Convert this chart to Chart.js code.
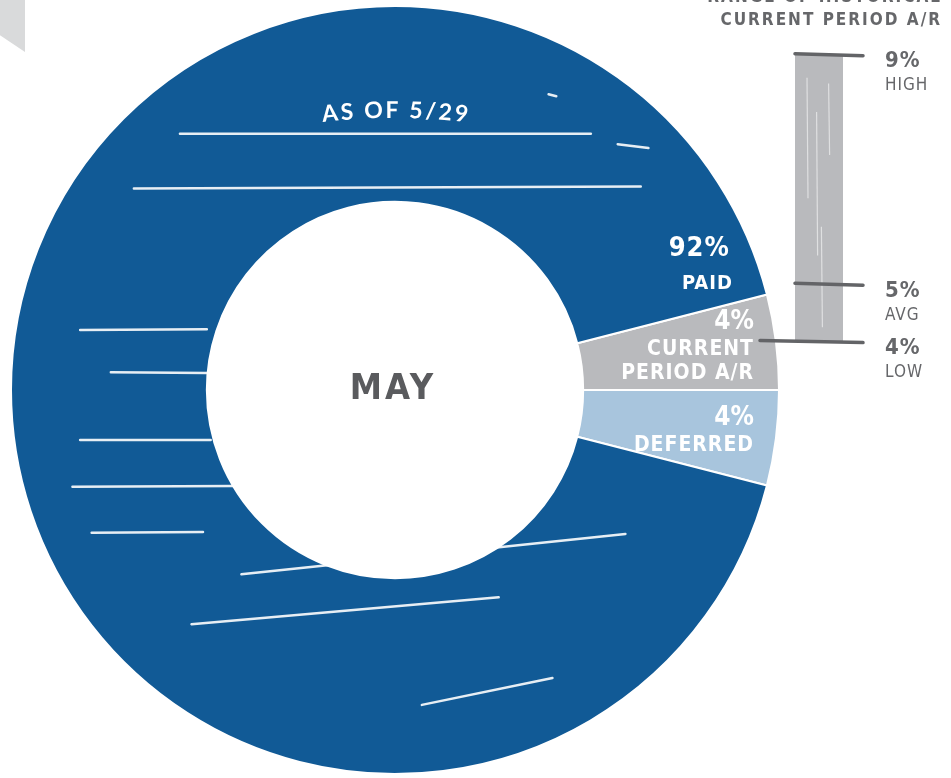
<!DOCTYPE html>
<html>
<head>
  <meta charset="UTF-8">
  <title>May A/R</title>
  <script src="https://cdn.jsdelivr.net/npm/chart.js"></script>
  <style>
    body { margin: 0; background: #fff; width: 951px; height: 778px; overflow: hidden; position: relative; }
    #corner { position: absolute; left: 0; top: 0; width: 25px; height: 52px; background: #d9dadb;
              clip-path: polygon(0 0, 100% 0, 100% 100%, 0 68%); }
    #donutBox { position: absolute; left: 10px; top: 5px; width: 770px; height: 770px; }
    #rangeBox { position: absolute; left: 650px; top: 0; width: 301px; height: 400px; }
  </style>
  <script>
    // donut slices, clockwise from the top of the A/R wedge
    const sliceNames = ['Current Period A/R', 'Deferred', 'Paid'];
    const sliceValues = [4, 4, 92];
    const sliceColors = ['#b9babd', '#a8c5dd', '#115a96'];
    const sliceLabels = [['4%', 'CURRENT', 'PERIOD A/R'], ['4%', 'DEFERRED'], ['92%', 'PAID']];

    // historical range of current period A/R
    const rangeLow = 4;
    const rangeAvg = 5;
    const rangeHigh = 9;
    const rangeMarks = [
      { value: rangeHigh, text: ['9%', 'HIGH'] },
      { value: rangeAvg, text: ['5%', 'AVG'] },
      { value: rangeLow, text: ['4%', 'LOW'] }
    ];

    const handFont = "'DejaVu Sans Condensed', 'DejaVu Sans', sans-serif";
    const inkGray = '#66676a';

    // white brush streaks across the ring, in units of the outer radius
    const streaks = [
      [-0.56, -0.667, 0.51, -0.667], [-0.68, -0.525, 0.64, -0.530],
      [-0.82, -0.156, -0.49, -0.158], [-0.74, -0.046, -0.49, -0.044],
      [-0.82, 0.130, -0.48, 0.130], [-0.84, 0.252, -0.42, 0.250],
      [-0.79, 0.372, -0.50, 0.370], [-0.40, 0.480, 0.60, 0.375],
      [-0.53, 0.610, 0.27, 0.540], [0.07, 0.820, 0.41, 0.750],
      [0.58, -0.640, 0.66, -0.630], [0.40, -0.770, 0.42, -0.765]
    ];

    const donutDecor = {
      id: 'donutDecor',
      afterDatasetsDraw(chart) {
        const ctx = chart.ctx;
        const arcs = chart.getDatasetMeta(0).data;
        const cx = arcs[0].x, cy = arcs[0].y;
        const R = arcs[0].outerRadius, r = arcs[0].innerRadius;

        // brush streaks, only where the ring is painted
        ctx.save();
        ctx.globalCompositeOperation = 'source-atop';
        ctx.strokeStyle = 'rgba(255,255,255,0.9)';
        ctx.lineCap = 'round';
        streaks.forEach(s => {
          ctx.lineWidth = 2.5;
          ctx.beginPath();
          ctx.moveTo(cx + s[0] * R, cy + s[1] * R);
          ctx.lineTo(cx + s[2] * R, cy + s[3] * R);
          ctx.stroke();
        });
        ctx.restore();

        ctx.save();
        ctx.fillStyle = '#fff';
        ctx.textAlign = 'right';
        ctx.textBaseline = 'middle';

        // A/R and deferred labels sit in their wedges, right aligned
        const wedgeTop = [cy - 68, cy + 28];
        [0, 1].forEach(i => {
          const x = cx + R - 25;
          sliceLabels[i].forEach((t, k) => {
            ctx.font = (k === 0 ? 'bold 26px ' : 'bold 21px ') + handFont;
            ctx.letterSpacing = k === 0 ? '0px' : '1px';
            const y = k === 0 ? wedgeTop[i] : wedgeTop[i] + 4 + k * 24;
            ctx.fillText(t, x, y);
          });
        });

        // paid label just above the A/R wedge
        const paidAng = arcs[0].startAngle - 0.14;
        const px = cx + Math.cos(paidAng) * R * 0.87;
        const py = cy + Math.sin(paidAng) * R * 0.87;
        ctx.font = 'bold 27px ' + handFont;
        ctx.letterSpacing = '1px';
        ctx.fillText(sliceLabels[2][0], px + 26, py - 14);
        ctx.font = 'bold 20px ' + handFont;
        ctx.fillText(sliceLabels[2][1], px + 29, py + 21);

        // "as of" date, gently arched over the top of the ring
        ctx.font = 'bold 23px Lato, sans-serif';
        ctx.letterSpacing = '0px';
        ctx.textAlign = 'center';
        ctx.textBaseline = 'alphabetic';
        const txt = 'AS OF 5/29';
        const rad = R * 1.6;
        const ccy = cy - ((R + r) / 2 - 14) + rad;
        const gap = 2.5;
        const widths = [...txt].map(c => ctx.measureText(c).width + gap);
        const total = widths.reduce((s, w) => s + w, 0);
        let ang = -Math.PI / 2 - (total / rad) / 2;
        [...txt].forEach((c, k) => {
          const w = widths[k];
          ang += (w / 2) / rad;
          ctx.save();
          ctx.translate(cx + Math.cos(ang) * rad, ccy + Math.sin(ang) * rad);
          ctx.rotate(ang + Math.PI / 2);
          ctx.fillText(c, 0, 0);
          ctx.restore();
          ang += (w / 2) / rad;
        });

        // month in the hole
        ctx.fillStyle = '#5a5b5e';
        ctx.font = 'bold 36px ' + handFont;
        ctx.letterSpacing = '3px';
        ctx.textBaseline = 'middle';
        ctx.fillText('MAY', cx - 2, cy);
        ctx.restore();
      }
    };

    const rangeDecor = {
      id: 'rangeDecor',
      afterDatasetsDraw(chart) {
        const ctx = chart.ctx;
        const y = chart.scales.y;
        const bar = chart.getDatasetMeta(0).data[0];
        const left = bar.x - bar.width / 2, right = bar.x + bar.width / 2;

        ctx.save();
        // streaks on the bar
        ctx.strokeStyle = 'rgba(255,255,255,0.55)';
        ctx.lineWidth = 1.2;
        const yTop = y.getPixelForValue(rangeHigh), yBot = y.getPixelForValue(rangeLow);
        [[0.25, 0.08, 0.5], [0.45, 0.2, 0.7], [0.7, 0.1, 0.35], [0.55, 0.6, 0.95]].forEach(s => {
          const x = left + s[0] * bar.width;
          ctx.beginPath();
          ctx.moveTo(x, yTop + s[1] * (yBot - yTop));
          ctx.lineTo(x + 1, yTop + s[2] * (yBot - yTop));
          ctx.stroke();
        });

        // tick lines and their labels
        ctx.strokeStyle = '#636467';
        ctx.lineWidth = 3.5;
        ctx.lineCap = 'round';
        rangeMarks.forEach(m => {
          const py = y.getPixelForValue(m.value);
          const x0 = m.value === rangeLow ? left - 35 : left;
          ctx.beginPath();
          ctx.moveTo(x0, py - 1);
          ctx.lineTo(right + 20, py + 1);
          ctx.stroke();
          ctx.fillStyle = inkGray;
          ctx.textAlign = 'left';
          ctx.textBaseline = 'middle';
          ctx.font = 'bold 22px ' + handFont;
          ctx.letterSpacing = '1px';
          ctx.fillText(m.text[0], right + 42, py + 7);
          ctx.font = '17px ' + handFont;
          ctx.fillText(m.text[1], right + 42, py + 31);
        });

        // heading above the bar, partly off the top edge
        ctx.textAlign = 'right';
        ctx.textBaseline = 'middle';
        ctx.font = 'bold 17px ' + handFont;
        ctx.letterSpacing = '2px';
        ctx.fillText('RANGE OF HISTORICAL', chart.width - 9, -2);
        ctx.fillText('CURRENT PERIOD A/R', chart.width - 9, 21);
        ctx.restore();
      }
    };

    window.onload = () => {
      new Chart(document.getElementById('donut').getContext('2d'), {
        type: 'doughnut',
        data: {
          labels: sliceNames,
          datasets: [{
            data: sliceValues,
            backgroundColor: sliceColors,
            borderColor: '#ffffff',
            borderWidth: 2
          }]
        },
        options: {
          responsive: true,
          maintainAspectRatio: false,
          animation: false,
          cutout: '49%',
          rotation: 90 - sliceValues[0] / 100 * 360,
          layout: { padding: 0 },
          plugins: { legend: { display: false }, tooltip: { enabled: false } }
        },
        plugins: [donutDecor]
      });

      new Chart(document.getElementById('range').getContext('2d'), {
        type: 'bar',
        data: {
          labels: ['Current Period A/R'],
          datasets: [{
            data: [[rangeLow, rangeHigh]],
            backgroundColor: '#b9babd',
            borderWidth: 0,
            barPercentage: 1,
            categoryPercentage: 1
          }]
        },
        options: {
          responsive: true,
          maintainAspectRatio: false,
          animation: false,
          layout: { padding: { left: 145, right: 108, top: 26, bottom: 1 } },
          scales: {
            x: { display: false },
            y: { display: false, min: 3, max: 9.5 }
          },
          plugins: { legend: { display: false }, tooltip: { enabled: false } }
        },
        plugins: [rangeDecor]
      });
    };
  </script>
</head>
<body>
  <div id="corner"></div>
  <div id="donutBox"><canvas id="donut"></canvas></div>
  <div id="rangeBox"><canvas id="range"></canvas></div>
</body>
</html>
